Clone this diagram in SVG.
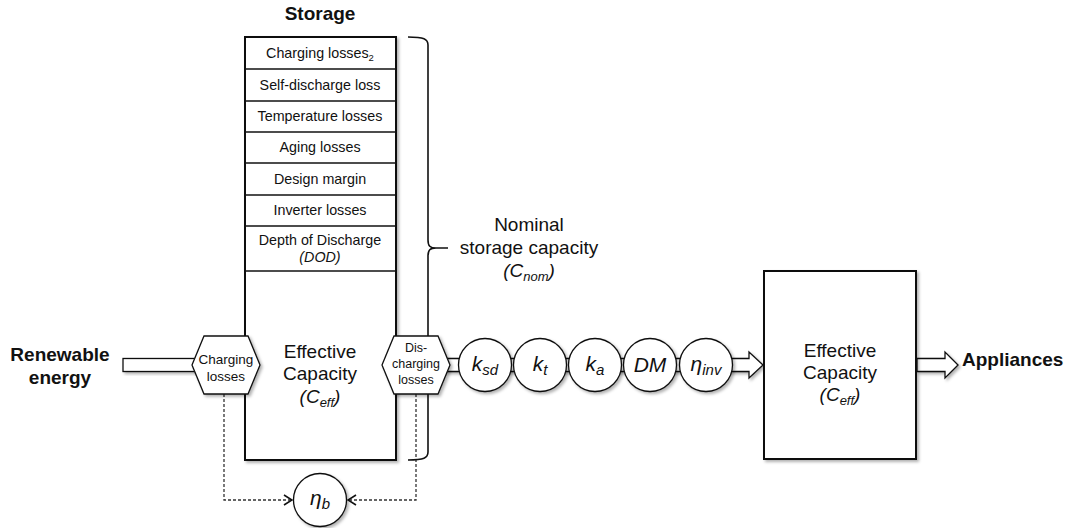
<svg xmlns="http://www.w3.org/2000/svg" width="1082" height="528" viewBox="0 0 1082 528">
<defs>
<style>
text{font-family:"Liberation Sans",Arial,sans-serif;fill:#111}
.b{font-weight:bold;font-size:19px}
.row{font-size:14.3px;text-anchor:middle}
.big{font-size:19px;text-anchor:middle}
.hx{font-size:12.5px;text-anchor:middle}
.hx2{font-size:13.5px;text-anchor:middle}
.sym{font-size:21px;font-style:italic;text-anchor:middle}
.box{fill:#fff;stroke:#111;stroke-width:2}
.ln{fill:none;stroke:#111;stroke-width:1.3}
.shape{fill:#fff;stroke:#111;stroke-width:1.3}
.dash{fill:none;stroke:#333;stroke-width:1.3;stroke-dasharray:3 2}
.brace{fill:none;stroke:#111;stroke-width:1.6}
</style>
<filter id="sh" x="-20%" y="-20%" width="150%" height="150%">
<feDropShadow dx="2" dy="2" stdDeviation="1.5" flood-color="#000" flood-opacity="0.3"/>
</filter>
<marker id="chev" markerWidth="10" markerHeight="12" refX="9" refY="6" orient="auto" markerUnits="userSpaceOnUse">
<path d="M1,1 L9,6 L1,11" fill="none" stroke="#111" stroke-width="1.6"/>
</marker>
</defs>
<rect width="1082" height="528" fill="#fff"/>

<g id="labels">
<text class="b" x="320" y="20" text-anchor="middle">Storage</text>
<text class="b" x="60" y="361" text-anchor="middle">Renewable</text>
<text class="b" x="60" y="384" text-anchor="middle">energy</text>
<text class="b" x="962" y="366">Appliances</text>
</g>

<g id="connectors">
<rect x="123" y="358.5" width="80" height="13" class="shape" filter="url(#sh)"/>
<path class="shape" filter="url(#sh)" d="M445,358.5 L749,358.5 L749,352 L763,365 L749,378 L749,371.5 L445,371.5 Z"/>
<path class="shape" filter="url(#sh)" d="M917,358.5 L945,358.5 L945,352 L958,365 L945,378 L945,371.5 L917,371.5 Z"/>
<path class="dash" d="M224,394 L224,500 L292,500" marker-end="url(#chev)"/>
<path class="dash" d="M416,394 L416,500 L348,500" marker-end="url(#chev)"/>
</g>

<g id="storage">
<rect class="box" x="245" y="37" width="151" height="423" filter="url(#sh)"/>
<g class="ln">
<line x1="245" y1="69" x2="396" y2="69"/>
<line x1="245" y1="101" x2="396" y2="101"/>
<line x1="245" y1="132" x2="396" y2="132"/>
<line x1="245" y1="163" x2="396" y2="163"/>
<line x1="245" y1="195" x2="396" y2="195"/>
<line x1="245" y1="226" x2="396" y2="226"/>
<line x1="245" y1="271" x2="396" y2="271"/>
</g>
<text class="row" x="320" y="58">Charging losses<tspan font-size="9.5" dy="3">2</tspan></text>
<text class="row" x="320" y="90">Self-discharge loss</text>
<text class="row" x="320" y="121">Temperature losses</text>
<text class="row" x="320" y="152">Aging losses</text>
<text class="row" x="320" y="184">Design margin</text>
<text class="row" x="320" y="215">Inverter losses</text>
<text class="row" x="320" y="245">Depth of Discharge</text>
<text class="row" x="320" y="262" font-style="italic">(DOD)</text>
<text class="big" x="320" y="358">Effective</text>
<text class="big" x="320" y="380">Capacity</text>
<text class="big" x="320" y="403" font-style="italic">(C<tspan font-size="13" dy="4">eff</tspan><tspan dy="-4">)</tspan></text>
</g>

<g id="brace">
<path class="brace" d="M408,37 C424,37 428,39 428,45 L428,240 C428,246 430,248 436,248 L448,248 M436,248 C430,248 428,250 428,256 L428,452 C428,458 424,460 408,460"/>
<text class="big" x="529" y="231">Nominal</text>
<text class="big" x="529" y="254">storage capacity</text>
<text class="big" x="529" y="277" font-style="italic">(C<tspan font-size="13" dy="4">nom</tspan><tspan dy="-4">)</tspan></text>
</g>

<g id="charging-losses">
<polygon class="shape" filter="url(#sh)" points="192,365 204,336 248,336 260,365 248,394 204,394"/>
<text class="hx2" x="226" y="364">Charging</text>
<text class="hx2" x="226" y="381">losses</text>
</g>

<g id="discharging-losses">
<polygon class="shape" filter="url(#sh)" points="382,365 394,336 438,336 450,365 438,394 394,394"/>
<text class="hx" x="416" y="352">Dis-</text>
<text class="hx" x="416" y="368">charging</text>
<text class="hx" x="416" y="384">losses</text>
</g>

<g id="k-sd">
<circle class="shape" filter="url(#sh)" cx="485" cy="365" r="26.5"/>
<text class="sym" x="485" y="371">k<tspan font-size="15" dy="4">sd</tspan></text>
</g>
<g id="k-t">
<circle class="shape" filter="url(#sh)" cx="540" cy="365" r="26.5"/>
<text class="sym" x="540" y="371">k<tspan font-size="15" dy="4">t</tspan></text>
</g>
<g id="k-a">
<circle class="shape" filter="url(#sh)" cx="595" cy="365" r="26.5"/>
<text class="sym" x="595" y="371">k<tspan font-size="15" dy="4">a</tspan></text>
</g>
<g id="dm">
<circle class="shape" filter="url(#sh)" cx="650" cy="365" r="26.5"/>
<text class="sym" x="650" y="372">DM</text>
</g>
<g id="eta-inv">
<circle class="shape" filter="url(#sh)" cx="706" cy="365" r="26.5"/>
<text class="sym" x="706" y="371">η<tspan font-size="15" dy="4">inv</tspan></text>
</g>

<g id="eta-b">
<circle class="shape" filter="url(#sh)" cx="320" cy="500" r="26.5"/>
<text class="sym" x="320" y="505">η<tspan font-size="15" dy="4">b</tspan></text>
</g>

<g id="effective-capacity">
<rect class="box" x="764" y="271" width="152" height="188" filter="url(#sh)"/>
<text class="big" x="840" y="357">Effective</text>
<text class="big" x="840" y="379">Capacity</text>
<text class="big" x="840" y="401" font-style="italic">(C<tspan font-size="13" dy="4">eff</tspan><tspan dy="-4">)</tspan></text>
</g>
</svg>
